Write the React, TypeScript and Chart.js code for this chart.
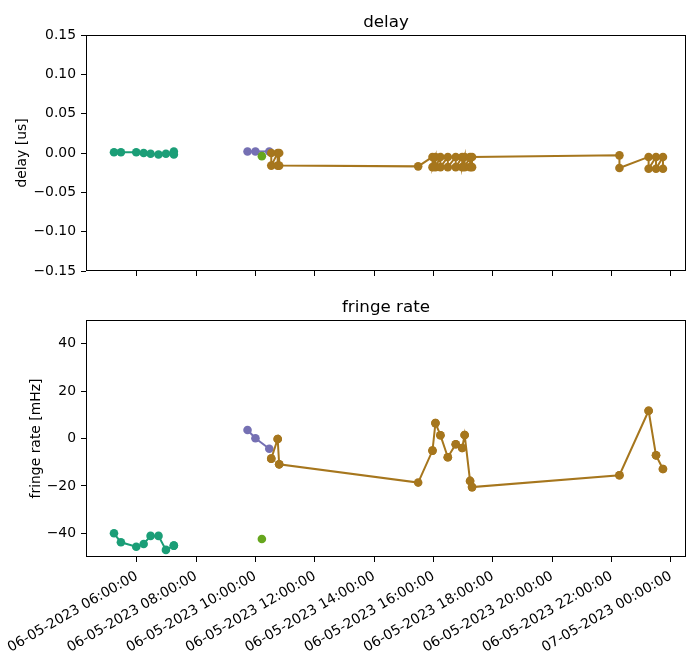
import React, { useEffect, useRef } from 'react';
import { Chart, registerables } from 'chart.js';

Chart.register(...registerables);

// ---------- data ----------
const X_TICK_HOURS = [6, 8, 10, 12, 14, 16, 18, 20, 22, 24];
const X_MIN_HOUR = 4.29;
const X_MAX_HOUR = 24.51;

const DELAY_TICKS_MIN = -0.15;
const DELAY_TICKS_MAX = 0.15;
const RATE_MIN = -50;
const RATE_MAX = 50;
const RATE_TICKS = [-40, -20, 0, 20, 40];

const GREEN_TIMES = ['05:14', '05:28', '05:59', '06:14', '06:28', '06:44', '06:59', '07:15', '07:15'];
const GREEN_DELAY = [0.001, 0.001, 0.001, 0.0, -0.001, -0.002, -0.001, 0.002, -0.002];
const GREEN_RATE = [-40.0, -43.8, -45.7, -44.5, -41.1, -41.1, -47.0, -45.2, -45.2];

const PURPLE_TIMES = ['09:44', '10:00', '10:28'];
const PURPLE_DELAY = [0.002, 0.002, 0.002];
const PURPLE_RATE = [3.6, 0.1, -4.3];

const LIME_TIMES = ['10:13'];
const LIME_DELAY = [-0.004];
const LIME_RATE = [-42.4];

const BROWN_TIMES = [
  '10:32', '10:32', '10:45', '10:45', '10:48', '10:48',
  '15:29',
  '15:58', '15:58', '16:04', '16:04', '16:14', '16:14', '16:29', '16:29',
  '16:45', '16:45', '16:58', '16:58', '17:03', '17:03', '17:14', '17:14', '17:18', '17:18',
  '22:16', '22:16',
  '23:15', '23:15', '23:30', '23:30', '23:44', '23:44',
];
const BROWN_DELAY = [
  0.0, -0.016, 0.0, -0.016, 0.0, -0.016,
  -0.017,
  -0.005, -0.018, -0.005, -0.018, -0.005, -0.018, -0.005, -0.018,
  -0.005, -0.018, -0.005, -0.018, -0.005, -0.018, -0.005, -0.018, -0.018, -0.005,
  -0.003, -0.019,
  -0.005, -0.020, -0.005, -0.020, -0.005, -0.020,
];
const BROWN_RATE = [
  -8.5, -8.5, -0.2, -0.2, -10.9, -10.9,
  -18.6,
  -5.1, -5.1, 6.5, 6.5, 1.4, 1.4, -7.9, -7.9,
  -2.4, -2.4, -4.0, -4.0, 1.5, 1.5, -17.9, -17.9, -20.5, -20.5,
  -15.5, -15.5,
  11.7, 11.7, -7.1, -7.1, -12.9, -12.9,
];

const COLORS = { green: '#1b9e77', purple: '#7570b3', lime: '#66a61e', brown: '#a6761d' };

// ---------- helpers ----------
const FONT = '"DejaVu Sans", sans-serif';
const TICK_FONT_SIZE = 13.9;

function hourOf(t: string): number {
  const [h, m] = t.split(':').map(Number);
  return h + m / 60;
}
function pts(times: string[], vals: number[]) {
  return times.map((t, i) => ({ x: hourOf(t), y: vals[i] }));
}
const pad2 = (n: number) => String(n).padStart(2, '0');
function xLabel(h: number): string {
  const day = 6 + Math.floor(h / 24);
  const hh = Math.round(h) % 24;
  return `${pad2(day)}-05-2023 ${pad2(hh)}:00:00`;
}
const minus = (s: string) => s.replace('-', '\u2212');

function makeDatasets(which: 'delay' | 'rate') {
  const series = [
    { times: GREEN_TIMES, d: GREEN_DELAY, r: GREEN_RATE, c: COLORS.green, order: 3 },
    { times: PURPLE_TIMES, d: PURPLE_DELAY, r: PURPLE_RATE, c: COLORS.purple, order: 2 },
    { times: LIME_TIMES, d: LIME_DELAY, r: LIME_RATE, c: COLORS.lime, order: 1 },
    { times: BROWN_TIMES, d: BROWN_DELAY, r: BROWN_RATE, c: COLORS.brown, order: 0 },
  ];
  return series.map((s) => ({
    data: pts(s.times, which === 'delay' ? s.d : s.r),
    borderColor: s.c,
    backgroundColor: s.c,
    pointBackgroundColor: s.c,
    pointBorderWidth: 0,
    pointRadius: 4.3,
    borderWidth: 2,
    showLine: true,
    tension: 0,
    order: s.order,
  }));
}

function framePlugin(title: string, yTitle: string, yTitleX: number) {
  return {
    id: 'mplFrame',
    afterDraw(chart: any) {
      const { ctx, chartArea: a } = chart;
      ctx.save();
      ctx.strokeStyle = '#000';
      ctx.lineWidth = 1;
      ctx.strokeRect(Math.round(a.left) + 0.5, Math.round(a.top) + 0.5, Math.round(a.right - a.left) - 1, Math.round(a.bottom - a.top) - 1);
      ctx.fillStyle = '#000';
      ctx.font = `16.7px ${FONT}`;
      ctx.textAlign = 'center';
      ctx.textBaseline = 'alphabetic';
      ctx.fillText(title, (a.left + a.right) / 2, a.top - 8);
      ctx.translate(yTitleX, (a.top + a.bottom) / 2);
      ctx.rotate(-Math.PI / 2);
      ctx.font = `${TICK_FONT_SIZE}px ${FONT}`;
      ctx.textBaseline = 'middle';
      ctx.fillText(yTitle, 0, 0);
      ctx.restore();
    },
  };
}

function xScale(showLabels: boolean, height: number) {
  return {
    type: 'linear',
    min: X_MIN_HOUR,
    max: X_MAX_HOUR,
    afterBuildTicks: (s: any) => {
      s.ticks = X_TICK_HOURS.map((v) => ({ value: v }));
    },
    afterFit: (s: any) => {
      s.height = height;
      s.paddingLeft = 0;
      s.paddingRight = 0;
    },
    border: { display: false },
    grid: { drawOnChartArea: false, drawTicks: true, tickLength: 5, tickColor: '#000', tickWidth: 1 },
    ticks: {
      display: showLabels,
      autoSkip: false,
      minRotation: 30,
      maxRotation: 30,
      padding: 6,
      color: '#000',
      font: { family: FONT, size: TICK_FONT_SIZE },
      callback: (v: number) => xLabel(v),
    },
  };
}

function yGrid() {
  return { drawOnChartArea: false, drawTicks: true, tickLength: 5, tickColor: '#000', tickWidth: 1 };
}

function useChart(ref: React.RefObject<HTMLCanvasElement>, cfg: () => any) {
  useEffect(() => {
    if (!ref.current) return;
    const chart = new Chart(ref.current, cfg());
    return () => chart.destroy();
  }, []);
}

export default function App() {
  const topRef = useRef<HTMLCanvasElement>(null);
  const botRef = useRef<HTMLCanvasElement>(null);

  useChart(topRef, () => ({
    type: 'line',
    data: { datasets: makeDatasets('delay') },
    options: {
      responsive: false,
      animation: false,
      events: [],
      layout: { autoPadding: false, padding: { top: 35, right: 1, left: 0, bottom: 0 } },
      plugins: { legend: { display: false }, tooltip: { enabled: false }, title: { display: false } },
      scales: {
        x: xScale(false, 19),
        y: {
          type: 'linear',
          min: DELAY_TICKS_MIN,
          max: DELAY_TICKS_MAX,
          afterFit: (s: any) => {
            s.width = 86;
            s.paddingTop = 0;
            s.paddingBottom = 0;
          },
          border: { display: false },
          grid: yGrid(),
          ticks: {
            stepSize: 0.05,
            padding: 5,
            color: '#000',
            font: { family: FONT, size: TICK_FONT_SIZE },
            callback: (v: number) => (Math.abs(v) < 1e-9 ? '0.00' : minus(v.toFixed(2))),
          },
        },
      },
    },
    plugins: [framePlugin('delay', 'delay [us]', 22)],
  }));

  useChart(botRef, () => ({
    type: 'line',
    data: { datasets: makeDatasets('rate') },
    options: {
      responsive: false,
      animation: false,
      events: [],
      layout: { autoPadding: false, padding: { top: 30, right: 1, left: 0, bottom: 0 } },
      plugins: { legend: { display: false }, tooltip: { enabled: false }, title: { display: false } },
      scales: {
        x: xScale(true, 99),
        y: {
          type: 'linear',
          min: RATE_MIN,
          max: RATE_MAX,
          afterBuildTicks: (s: any) => {
            s.ticks = RATE_TICKS.map((v) => ({ value: v }));
          },
          afterFit: (s: any) => {
            s.width = 86;
            s.paddingTop = 0;
            s.paddingBottom = 0;
          },
          border: { display: false },
          grid: yGrid(),
          ticks: {
            padding: 5,
            color: '#000',
            font: { family: FONT, size: TICK_FONT_SIZE },
            callback: (v: number) => minus(String(v)),
          },
        },
      },
    },
    plugins: [framePlugin('fringe rate', 'fringe rate [mHz]', 36)],
  }));

  return (
    <div style={{ position: 'absolute', left: 0, top: 0, width: 687, height: 656, background: '#fff' }}>
      <canvas ref={topRef} width={687} height={290} style={{ position: 'absolute', left: 0, top: 0 }} />
      <canvas ref={botRef} width={687} height={366} style={{ position: 'absolute', left: 0, top: 290 }} />
    </div>
  );
}
